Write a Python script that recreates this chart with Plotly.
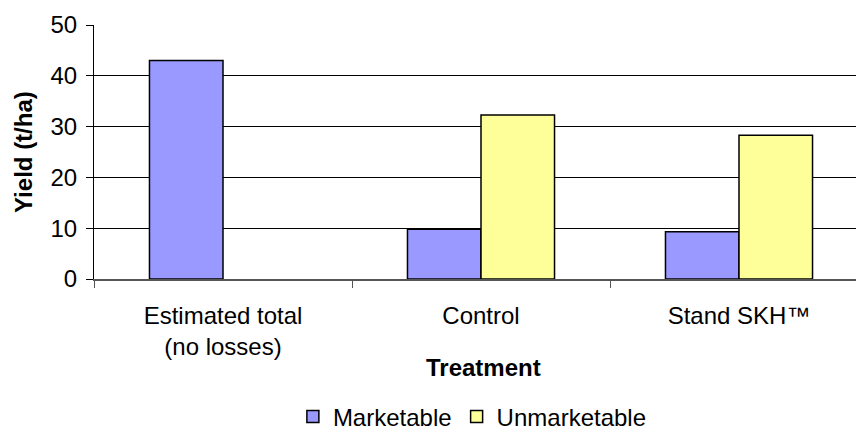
import plotly.graph_objects as go

# Yield by treatment (t/ha)
treatments = ["Estimated total<br>(no losses)", "Control", "Stand SKH™"]
marketable = [43.0, 9.8, 9.3]
unmarketable = [None, 32.3, 28.3]
y_ticks = [0, 10, 20, 30, 40, 50]

FONT = "Liberation Sans, Arial, sans-serif"
FS = 24

fig = go.Figure()
fig.add_trace(go.Bar(
    name="Marketable", x=treatments, y=marketable,
    marker=dict(color="#9999FF", line=dict(color="#000000", width=1.5)),
))
fig.add_trace(go.Bar(
    name="Unmarketable", x=treatments, y=unmarketable,
    marker=dict(color="#FFFF99", line=dict(color="#000000", width=1.5)),
))

fig.update_layout(
    width=856, height=432,
    margin=dict(l=94, r=0, t=25, b=153),
    paper_bgcolor="white", plot_bgcolor="white",
    font=dict(family=FONT, size=FS, color="#000000"),
    barmode="group", bargap=0.43, bargroupgap=0,
    showlegend=True,
    legend=dict(
        orientation="h", xref="paper", yref="container",
        x=0.261, xanchor="left", y=1 - 417 / 432, yanchor="middle",
        font=dict(family=FONT, size=FS), itemwidth=30, tracegroupgap=0,
        bgcolor="rgba(0,0,0,0)",
    ),
    annotations=[
        dict(text="<b>Treatment</b>", xref="paper", yref="paper",
             x=(483 - 94) / 762, y=(279 - 367) / 254, xanchor="center", yanchor="middle",
             showarrow=False, font=dict(family=FONT, size=FS)),
        dict(text="<b>Yield (t/ha)</b>", xref="paper", yref="paper",
             x=(23 - 94) / 762, y=0.5, xanchor="center", yanchor="middle", textangle=-90,
             showarrow=False, font=dict(family=FONT, size=FS)),
    ],
)

fig.update_xaxes(
    type="category", range=[-0.5, 2.5 - 12 / 258],
    showline=True, linecolor="#555555", linewidth=1.5,
    ticks="outside", tickson="boundaries", ticklen=7, tickcolor="#555555",
    ticklabelstandoff=14,
    showgrid=False, tickfont=dict(family=FONT, size=FS),
)
fig.update_yaxes(
    range=[0, 50], tickvals=y_ticks,
    showline=True, linecolor="#000000", linewidth=1,
    ticks="outside", ticklen=7, tickcolor="#000000",
    ticklabelstandoff=4,
    showgrid=True, gridcolor="#000000", gridwidth=1, zeroline=False,
    tickfont=dict(family=FONT, size=FS),
)

fig.write_html("out.html")
